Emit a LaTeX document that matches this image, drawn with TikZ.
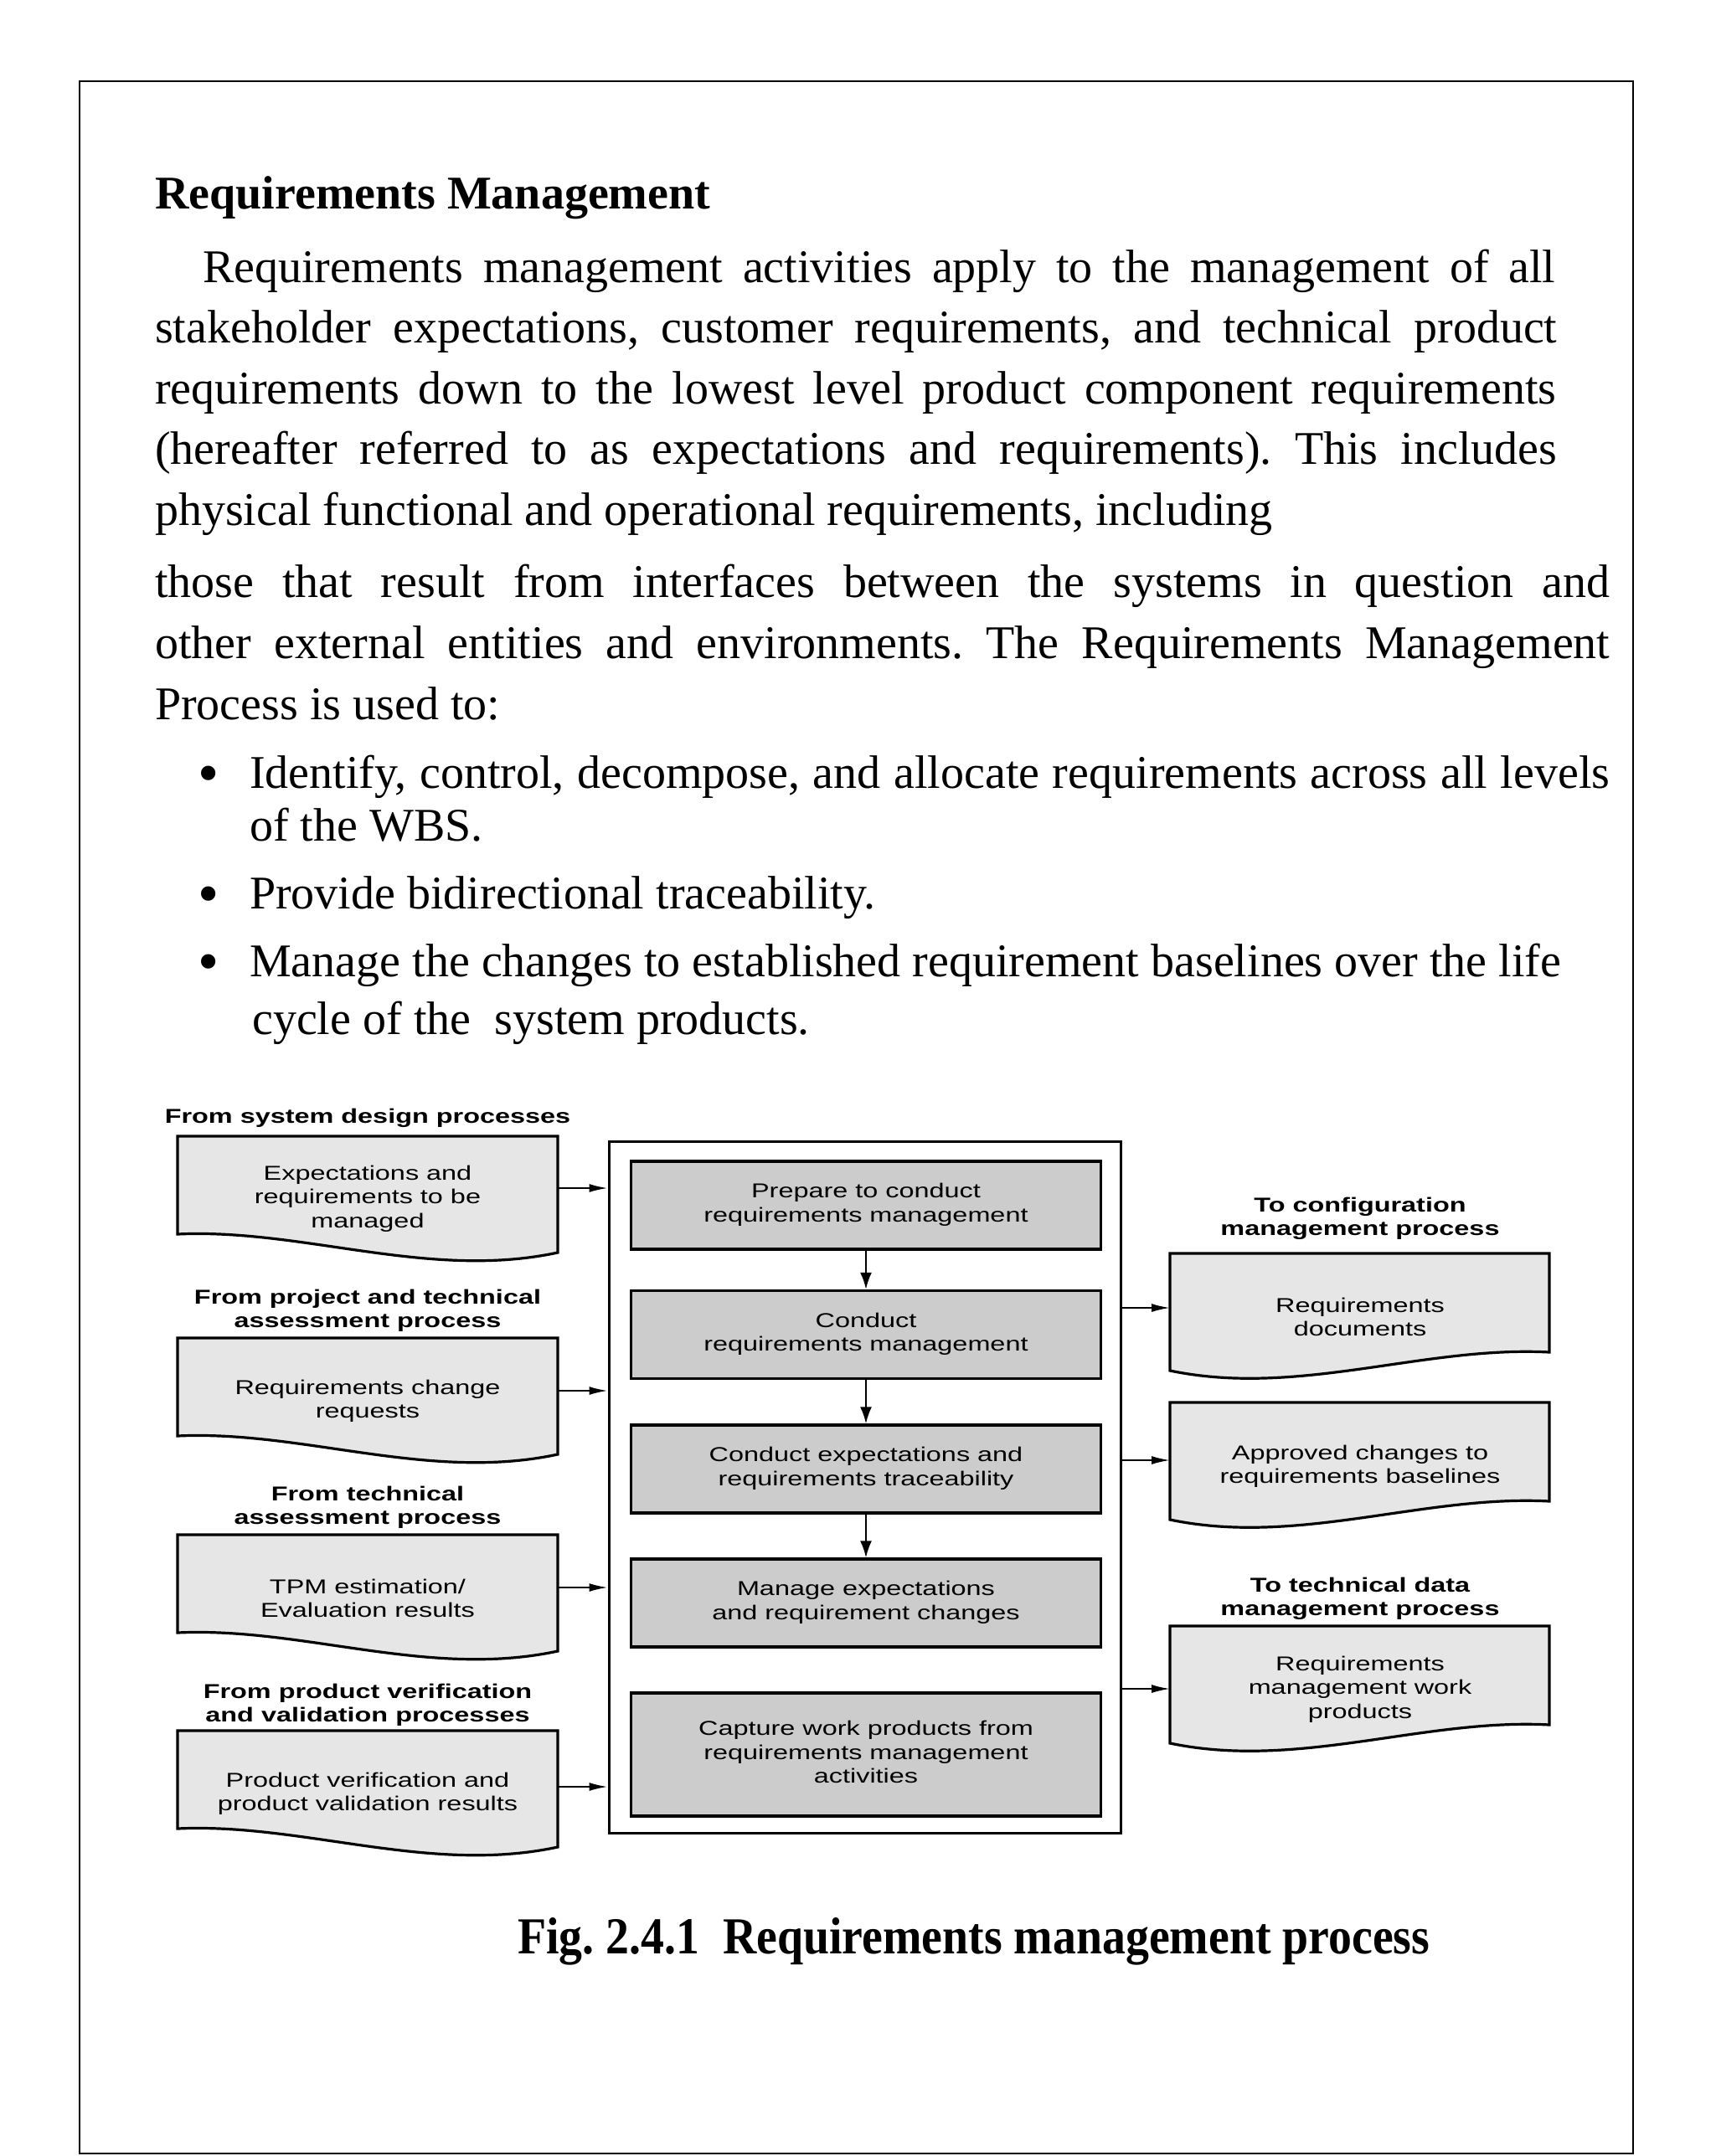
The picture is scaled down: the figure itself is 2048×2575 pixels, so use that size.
\documentclass[tikz,border=0pt]{standalone}
\usepackage{fontspec}
\setmainfont{Liberation Serif}
\newfontfamily\dfont{Liberation Sans}[FakeStretch=1.35]
\newfontfamily\capfont{Liberation Serif}[FakeStretch=0.9]
\usetikzlibrary{arrows.meta}
\definecolor{docfill}{RGB}{230,230,230}
\definecolor{procfill}{RGB}{204,204,204}
\newcommand\ml[1]{\begin{tabular}[t]{@{}c@{}}#1\end{tabular}}
\frenchspacing
\tikzset{
  docL/.pic={\draw[line width=3.2pt,fill=docfill,line join=miter] (0,0) -- (454,0) -- (454,139) .. controls (300,172) and (150,110) .. (0,117) -- cycle; \coordinate (-e) at (454,#1);},
  docR/.pic={\draw[line width=3.2pt,fill=docfill,line join=miter] (0,0) -- (453,0) -- (453,118) .. controls (303,110) and (153,172) .. (0,140) -- cycle; \coordinate (-w) at (0,#1);}
}
\begin{document}
\frenchspacing
\begin{tikzpicture}[x=1pt,y=-1pt,
  body/.style={anchor=base west,inner sep=0pt,font=\frenchspacing\fontsize{56pt}{67pt}\selectfont},
  bodyb/.style={anchor=base west,inner sep=0pt,font=\bfseries\fontsize{56pt}{67pt}\selectfont},
  bullet/.style={anchor=base,inner sep=0pt,font=\fontsize{72pt}{80pt}\selectfont},
  dtxt/.style={anchor=base,inner sep=0pt,font=\dfont\fontsize{24pt}{28.5pt}\selectfont},
  dhead/.style={anchor=base,inner sep=0pt,font=\dfont\bfseries\fontsize{24pt}{28.5pt}\selectfont},
  pbox/.style={draw,line width=3.5pt,fill=procfill,minimum width=561pt,minimum height=105pt,inner sep=0pt,font=\dfont\fontsize{24pt}{28.5pt}\selectfont},
  cont/.style={draw,line width=3pt,minimum width=611pt,minimum height=826pt,inner sep=0pt},
  harr/.style={line width=2pt,-{Latex[length=22pt,width=10pt]}},
  varr/.style={line width=2pt,-{Latex[length=20pt,width=14pt]}}
]
\useasboundingbox (0,0) rectangle (2048,2575);
\fill[white] (0,0) rectangle (2048,2575);
\draw[line width=2.5pt] (95,97) rectangle (1950,2572);

% ---- text ----
\node[bodyb] (t0) at (185,249) {Requirements Management};
\node[body] (l1) at (242,337) {\makebox[1615pt][s]{Requirements management activities apply to the management of all}};
\node[body] (l2) at (185,409) {\makebox[1674pt][s]{stakeholder expectations, customer requirements, and technical product}};
\node[body] (l3) at (185,482) {\makebox[1673pt][s]{requirements down to the lowest level product component requirements}};
\node[body] (l4) at (185,554) {\makebox[1674pt][s]{(hereafter referred to as expectations and requirements). This includes}};
\node[body] (l5) at (185,627) {physical functional and operational requirements, including};
\node[body] (l6) at (185,713) {\makebox[1737pt][s]{those that result from interfaces between the systems in question and}};
\node[body] (l7) at (185,786) {\makebox[1737pt][s]{other external entities and environments. The Requirements Management}};
\node[body] (l8) at (185,859) {Process is used to:};
\node[bullet] (bu1) at (249,947) {•};
\node[body] (b1) at (298,941) {\makebox[1624pt][s]{Identify, control, decompose, and allocate requirements across all levels}};
\node[body] (b1b) at (298,1004) {of the WBS.};
\node[bullet] (bu2) at (249,1091) {•};
\node[body] (b2) at (298,1085) {Provide bidirectional traceability.};
\node[bullet] (bu3) at (249,1172) {•};
\node[body] (b3) at (298,1166) {Manage the changes to established requirement baselines over the life};
\node[body] (b3b) at (301,1235) {cycle of the\ \ system products.};

% ---- diagram: left inputs ----
\node[dhead] (h1) at (439,1341) {From system design processes};
\pic (d1) at (212,1357) {docL=62};
\node[dtxt] (d1t) at (439,1409) {\ml{Expectations and\\requirements to be\\managed}};

\node[dhead] (h2) at (439,1557) {\ml{From project and technical\\assessment process}};
\pic (d2) at (212,1598) {docL=63};
\node[dtxt] (d2t) at (439,1665) {\ml{Requirements change\\requests}};

\node[dhead] (h3) at (439,1792) {\ml{From technical\\assessment process}};
\pic (d3) at (212,1833) {docL=63};
\node[dtxt] (d3t) at (439,1903) {\ml{TPM estimation/\\Evaluation results}};

\node[dhead] (h4) at (439,2028) {\ml{From product verification\\and validation processes}};
\pic (d4) at (212,2067) {docL=67};
\node[dtxt] (d4t) at (439,2134) {\ml{Product verification and\\product validation results}};

% ---- container and process boxes ----
\node[cont] (C) at (1032.5,1776) {};
\node[pbox] (p1) at (1034,1439.5) {\ml{Prepare to conduct\\requirements management}};
\node[pbox] (p2) at (1034,1594) {\ml{Conduct\\requirements management}};
\node[pbox] (p3) at (1034,1754.5) {\ml{Conduct expectations and\\requirements traceability}};
\node[pbox] (p4) at (1034,1914.5) {\ml{Manage expectations\\and requirement changes}};
\node[pbox,minimum height=147pt] (p5) at (1034,2095.5) {\ml{Capture work products from\\requirements management\\activities}};
\draw[varr] (p1.south) -- (p2.north);
\draw[varr] (p2.south) -- (p3.north);
\draw[varr] (p3.south) -- (p4.north);

% ---- right outputs ----
\node[dhead] (h5) at (1624,1447) {\ml{To configuration\\management process}};
\pic (r1) at (1397,1497) {docR=65};
\node[dtxt] (r1t) at (1624,1567) {\ml{Requirements\\documents}};

\pic (r2) at (1397,1675) {docR=69};
\node[dtxt] (r2t) at (1624,1743) {\ml{Approved changes to\\requirements baselines}};

\node[dhead] (h6) at (1624,1901) {\ml{To technical data\\management process}};
\pic (r3) at (1397,1942) {docR=75};
\node[dtxt] (r3t) at (1624,1995) {\ml{Requirements\\management work\\products}};

% ---- connectors ----
\draw[harr] (d1-e) -- (d1-e -| C.west);
\draw[harr] (d2-e) -- (d2-e -| C.west);
\draw[harr] (d3-e) -- (d3-e -| C.west);
\draw[harr] (d4-e) -- (d4-e -| C.west);
\draw[harr] (C.east |- r1-w) -- (r1-w);
\draw[harr] (C.east |- r2-w) -- (r2-w);
\draw[harr] (C.east |- r3-w) -- (r3-w);

% ---- caption ----
\node[anchor=base west,inner sep=0pt,font=\capfont\bfseries\fontsize{62pt}{70pt}\selectfont] (cap) at (618,2333) {Fig. 2.4.1\ \ Requirements management process};
\end{tikzpicture}
\end{document}
